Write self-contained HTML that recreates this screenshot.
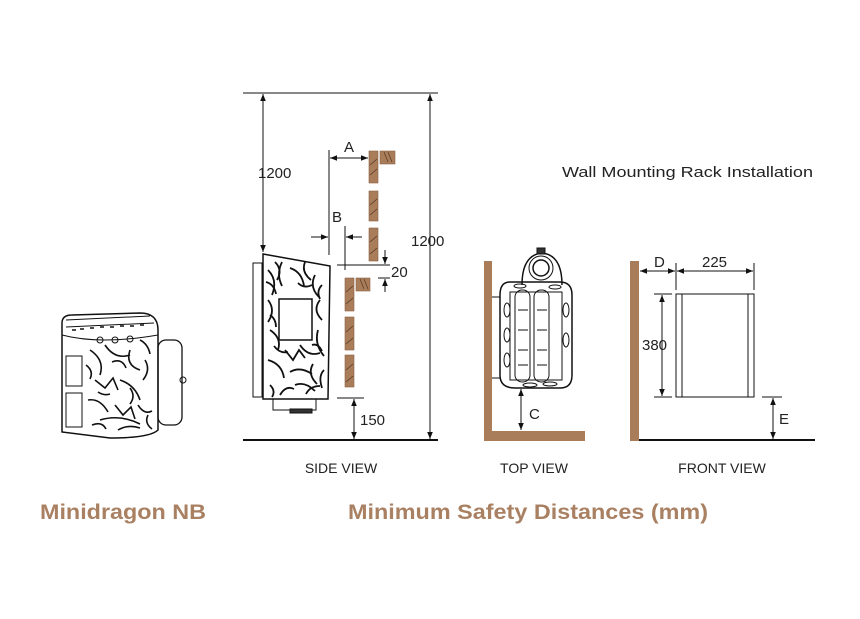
<!DOCTYPE html>
<html><head><meta charset="utf-8"><style>
html,body{margin:0;padding:0;background:#fff;width:860px;height:619px;overflow:hidden}
svg{display:block}
text{font-family:"Liberation Sans",sans-serif;fill:#222}
</style></head><body>
<svg width="860" height="619" viewBox="0 0 860 619" xmlns="http://www.w3.org/2000/svg">
<defs>
<marker id="ar" viewBox="0 0 10 10" refX="10" refY="5" markerWidth="7" markerHeight="7" orient="auto-start-reverse"><path d="M0,1 L10,5 L0,9 z" fill="#111"/></marker>
</defs>
<g stroke="#111" stroke-width="1" fill="none">
<!-- SIDE VIEW -->
<line x1="243" y1="93" x2="438" y2="93"/>
<line x1="243" y1="440" x2="438" y2="440" stroke-width="2"/>
<line x1="263" y1="94" x2="263" y2="252" marker-start="url(#ar)" marker-end="url(#ar)"/>
<line x1="430" y1="94" x2="430" y2="439" marker-start="url(#ar)" marker-end="url(#ar)"/>
<line x1="329" y1="150" x2="329" y2="255"/>
<line x1="330" y1="158" x2="368" y2="158" marker-start="url(#ar)" marker-end="url(#ar)"/>
<line x1="311" y1="237" x2="328" y2="237" marker-end="url(#ar)"/>
<line x1="362" y1="237" x2="346" y2="237" marker-end="url(#ar)"/>
<line x1="345" y1="226" x2="345" y2="270"/>
<line x1="337" y1="265" x2="390" y2="265"/>
<line x1="385" y1="250" x2="385" y2="264" marker-end="url(#ar)"/>
<line x1="378" y1="278" x2="390" y2="278"/>
<line x1="385" y1="292" x2="385" y2="279" marker-end="url(#ar)"/>
<line x1="337" y1="398" x2="364" y2="398"/>
<line x1="354" y1="399" x2="354" y2="439" marker-start="url(#ar)" marker-end="url(#ar)"/>
<!-- heater side -->
<rect x="253" y="263" width="9" height="134"/>
<path d="M263,254 L330,266 L328,399 L263,399 Z" stroke-width="1.5"/>
<g stroke-width="1.8">
<path d="M268,270 q10,10 4,25 M275,262 q8,8 2,18 M290,268 q12,4 14,18 M315,275 q-6,12 4,22 M320,300 q-8,10 2,20 M268,300 q8,10 0,22 M270,330 q12,8 8,20 M285,350 l8,10 l6,-10 l6,8 M300,345 q8,12 20,8 M268,360 q14,4 16,18 M290,372 q10,-6 22,2 M295,385 q10,-4 20,6 M270,385 q6,6 2,12 M318,330 q-4,14 6,26 M305,262 q-4,10 6,18"/>
<path d="M282,262 q-6,12 0,24 M298,283 q6,6 14,2 M322,285 q-6,6 -2,14 M266,282 q8,2 10,12 M274,346 q6,8 14,6 M313,364 q-6,10 4,20 M280,395 q6,-10 14,-6 M306,394 q4,-8 14,-8 M324,370 q-6,6 -2,18 M270,315 q6,4 6,12 M312,345 q6,-2 10,6"/>
</g>
<rect x="279" y="299" width="33" height="41" fill="#fff" stroke-width="1.5"/>
<rect x="273" y="399" width="43" height="11"/>
<rect x="290" y="409" width="22" height="4" fill="#333"/>
<!-- TOP VIEW heater -->
<path d="M510,282 Q500,282 500,295 L500,375 Q500,388 515,388 L560,388 Q572,388 572,375 L572,295 Q572,282 560,282 Z" stroke-width="1.5"/>
<path d="M510,292 L562,292 L562,380 L510,380 Z"/>
<rect x="515" y="290" width="15" height="92" rx="7"/>
<rect x="534" y="290" width="15" height="92" rx="7"/>
<path d="M518,310 h10 M518,330 h10 M518,350 h10 M518,365 h10 M537,310 h10 M537,330 h10 M537,350 h10 M537,365 h10"/>
<path d="M522,285 Q522,255 542,253 Q562,255 562,285" stroke-width="1.5"/>
<circle cx="541" cy="268" r="8" stroke-width="1.5"/>
<circle cx="541" cy="268" r="12"/>
<rect x="537" y="248" width="8" height="6" fill="#333"/>
<line x1="492" y1="297" x2="500" y2="297"/><line x1="492" y1="378" x2="500" y2="378"/>
<ellipse cx="507" cy="310" rx="3" ry="7"/><ellipse cx="507" cy="335" rx="3" ry="7"/><ellipse cx="507" cy="360" rx="3" ry="7"/>
<ellipse cx="566" cy="310" rx="3" ry="7"/><ellipse cx="566" cy="340" rx="3" ry="7"/>
<ellipse cx="530" cy="385" rx="7" ry="2"/><ellipse cx="550" cy="384" rx="7" ry="2"/><ellipse cx="520" cy="286" rx="6" ry="2"/><ellipse cx="555" cy="287" rx="6" ry="2"/>
<line x1="521" y1="389" x2="521" y2="430" marker-start="url(#ar)" marker-end="url(#ar)"/>
<!-- FRONT VIEW -->
<line x1="639" y1="440" x2="815" y2="440" stroke-width="2"/>
<rect x="676" y="294" width="78" height="103"/>
<line x1="682" y1="294" x2="682" y2="397"/><line x1="748" y1="294" x2="748" y2="397"/>
<line x1="676" y1="263" x2="676" y2="290"/><line x1="754" y1="263" x2="754" y2="290"/>
<line x1="640" y1="271" x2="675" y2="271" marker-start="url(#ar)" marker-end="url(#ar)"/>
<line x1="677" y1="271" x2="753" y2="271" marker-start="url(#ar)" marker-end="url(#ar)"/>
<line x1="654" y1="294" x2="672" y2="294"/><line x1="654" y1="397" x2="672" y2="397"/>
<line x1="662" y1="295" x2="662" y2="396" marker-start="url(#ar)" marker-end="url(#ar)"/>
<line x1="762" y1="397" x2="782" y2="397"/>
<line x1="773" y1="398" x2="773" y2="439" marker-start="url(#ar)" marker-end="url(#ar)"/>
<!-- product image -->
<path d="M62,323 Q62,315 72,315 L140,313 Q158,313 158,330 L158,430 Q150,438 110,438 L62,432 Z" stroke-width="1.5"/>
<path d="M62,335 Q100,345 158,335"/>
<path d="M66,320 L150,316 M66,327 L154,323"/>
<rect x="158" y="340" width="24" height="85" rx="8" stroke-width="1.3"/>
<rect x="66" y="356" width="16" height="30"/><rect x="66" y="393" width="16" height="34"/>
<g stroke-width="1.6">
<path d="M90,350 q15,10 10,25 M105,345 q10,15 25,10 M130,350 q-5,15 10,20 M95,380 l10,8 l8,-10 l5,12 M120,380 q15,5 20,20 M88,400 q12,-2 20,12 M115,405 l8,10 l8,-8 l4,12 M138,405 q6,10 14,6 M100,420 q20,-6 40,4 M145,360 q6,10 -2,20"/>
<path d="M86,365 q8,6 4,14 M112,362 q10,-4 14,6 M140,340 q8,4 10,14 M130,388 q6,8 0,16 M92,425 q10,-4 14,4 M148,415 q-4,8 4,14 M118,430 q10,-6 22,-2 M98,392 q6,4 12,2"/>
<path d="M72,330 l4,0 M80,329 l4,0 M90,328 l4,0 M100,327 l4,0 M110,327 l4,0 M120,326 l4,0 M130,326 l4,0 M140,325 l4,0"/>
</g>
<circle cx="100" cy="340" r="3"/><circle cx="115" cy="340" r="3"/><circle cx="130" cy="339" r="3"/>
<circle cx="183" cy="380" r="3"/>
</g>
<!-- bricks -->
<g fill="#a97c5a" stroke="#8a6244" stroke-width="0.6">
<rect x="369" y="151" width="9" height="32"/><rect x="369" y="191" width="9" height="30"/><rect x="369" y="228" width="9" height="33"/>
<rect x="380" y="151" width="15" height="13"/>
<rect x="345" y="278" width="9" height="33"/><rect x="345" y="317" width="9" height="33"/><rect x="345" y="355" width="9" height="32"/>
<rect x="356" y="278" width="14" height="13"/>
</g>
<g stroke="#4a3020" stroke-width="0.6">
<path d="M370,165 l7,-6 M370,175 l7,-6 M370,205 l7,-6 M370,215 l7,-6 M370,242 l7,-6 M370,254 l7,-6 M346,292 l7,-6 M346,304 l7,-6 M346,332 l7,-6 M346,344 l7,-6 M346,370 l7,-6 M346,382 l7,-6 M384,152 l4,10 M388,152 l4,10 M360,279 l4,10 M364,279 l4,10"/>
</g>
<g fill="#a97c5a">
<rect x="484" y="261" width="8" height="180"/><rect x="484" y="431" width="101" height="10"/>
<rect x="630" y="261" width="9" height="180"/>
</g>
<!-- text -->
<text x="258" y="178" font-size="15">1200</text>
<text x="411" y="246" font-size="15">1200</text>
<text x="344" y="152" font-size="15">A</text>
<text x="332" y="222" font-size="15">B</text>
<text x="391" y="277" font-size="15">20</text>
<text x="360" y="425" font-size="15">150</text>
<text x="529" y="419" font-size="15">C</text>
<text x="654" y="267" font-size="15">D</text>
<text x="702" y="267" font-size="15">225</text>
<text x="642" y="350" font-size="15">380</text>
<text x="779" y="424" font-size="15">E</text>
<text x="562" y="177" font-size="15" textLength="251" lengthAdjust="spacingAndGlyphs">Wall Mounting Rack Installation</text>
<text x="341" y="473" font-size="14" text-anchor="middle">SIDE VIEW</text>
<text x="534" y="473" font-size="14" text-anchor="middle">TOP VIEW</text>
<text x="722" y="473" font-size="14" text-anchor="middle">FRONT VIEW</text>
<text x="40" y="519" font-size="21" font-weight="bold" style="fill:#a98062" textLength="166" lengthAdjust="spacingAndGlyphs">Minidragon NB</text>
<text x="348" y="519" font-size="21" font-weight="bold" style="fill:#a98062" textLength="360" lengthAdjust="spacingAndGlyphs">Minimum Safety Distances (mm)</text>
</svg>
</body></html>
